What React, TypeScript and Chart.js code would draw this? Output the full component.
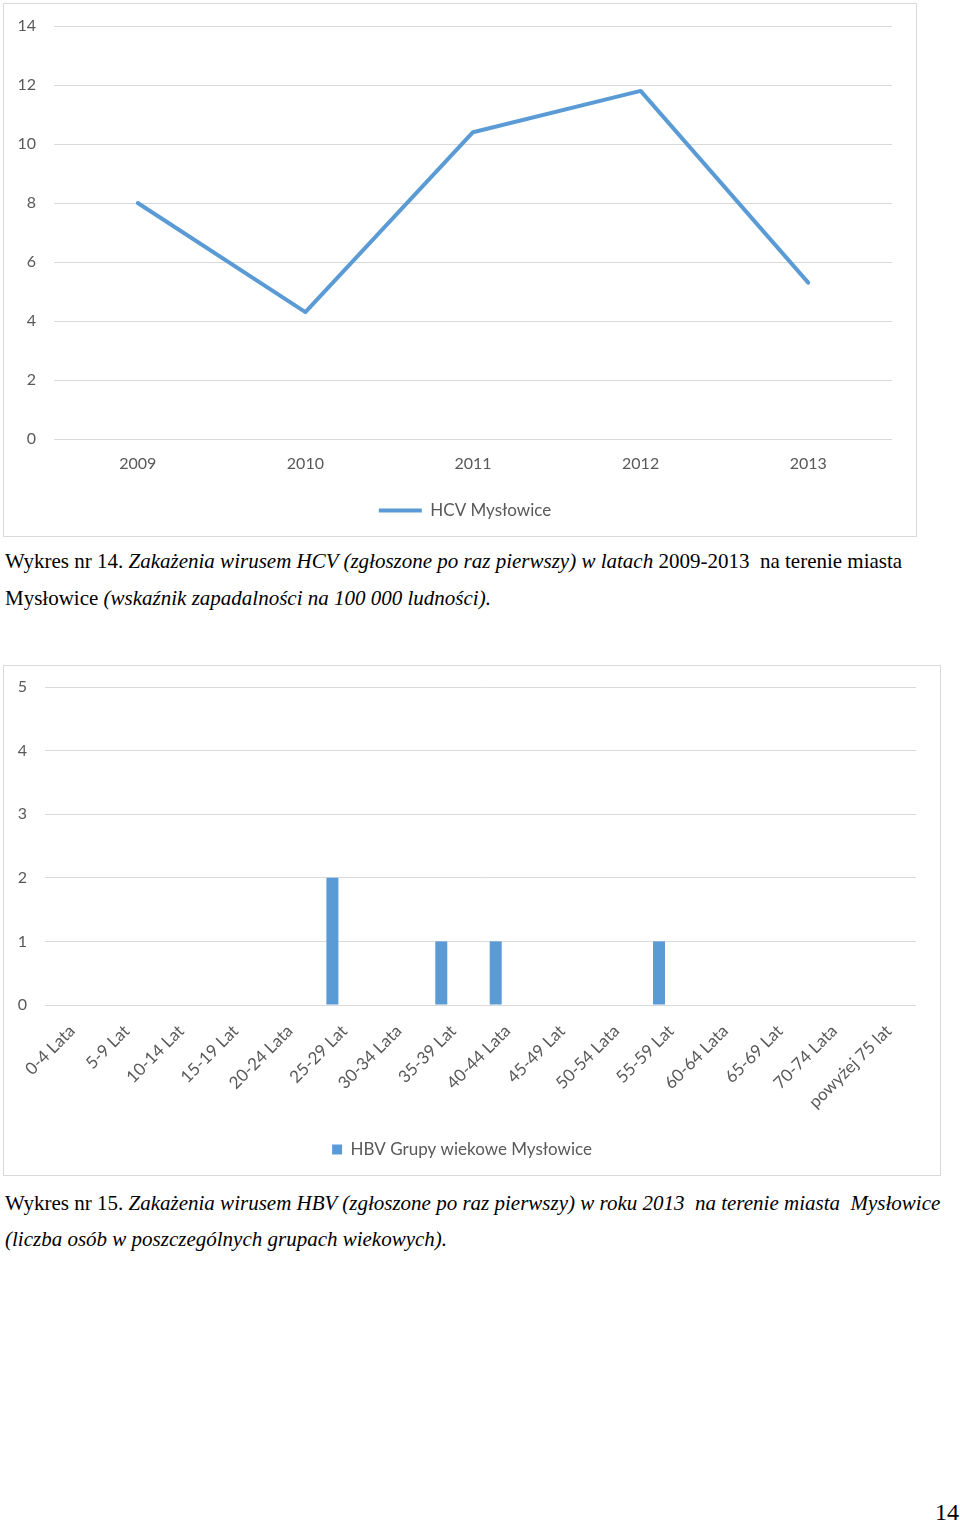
import React, { useEffect, useRef } from "react";
import { Chart, registerables } from "chart.js";

Chart.register(...registerables);

// ---------- data ----------
const hcvYears = ["2009", "2010", "2011", "2012", "2013"];
const hcvValues = [8.0, 4.3, 10.4, 11.8, 5.3];
const hcvLabel = "HCV Mysłowice";

const hbvGroups = [
  "0-4 Lata", "5-9 Lat", "10-14 Lat", "15-19 Lat", "20-24 Lata", "25-29 Lat",
  "30-34 Lata", "35-39 Lat", "40-44 Lata", "45-49 Lat", "50-54 Lata", "55-59 Lat",
  "60-64 Lata", "65-69 Lat", "70-74 Lata", "powyżej 75 lat",
];
const hbvValues = [0, 0, 0, 0, 0, 2, 0, 1, 1, 0, 0, 1, 0, 0, 0, 0];
const hbvLabel = "HBV Grupy wiekowe Mysłowice";

// ---------- styles ----------
const BLUE = "#5b9bd5";
const GRAY = "#595959";
const GRID = "#d9d9d9";
const FONT = "Lato";

const legendShift = (dx: number) => ({
  id: "legendShift",
  afterLayout(chart: any) {
    if (chart.legend) {
      chart.legend.left += dx;
      chart.legend.right += dx;
    }
  },
});

function LineChart() {
  const ref = useRef<HTMLCanvasElement | null>(null);
  useEffect(() => {
    if (!ref.current) return;
    const chart = new Chart(ref.current, {
      type: "line",
      data: {
        labels: hcvYears,
        datasets: [
          {
            label: hcvLabel,
            data: hcvValues,
            borderColor: BLUE,
            backgroundColor: BLUE,
            borderWidth: 4,
            pointRadius: 0,
            tension: 0,
            borderJoinStyle: "round",
            borderCapStyle: "round",
          },
        ],
      },
      plugins: [legendShift(17)],
      options: {
        responsive: false,
        animation: false,
        layout: { padding: { top: 22, right: 24, bottom: 7, left: 0 } },
        plugins: {
          tooltip: { enabled: false },
          legend: {
            position: "bottom",
            labels: {
              boxWidth: 43,
              boxHeight: 4,
              padding: 9,
              color: GRAY,
              font: { family: FONT, size: 17 },
              generateLabels: (c: any) =>
                Chart.defaults.plugins.legend.labels
                  .generateLabels(c)
                  .map((l: any) => ({ ...l, lineWidth: 0, fillStyle: BLUE })),
            },
          },
        },
        scales: {
          x: {
            offset: true,
            grid: { display: false, drawTicks: false },
            border: { display: false },
            ticks: { color: GRAY, font: { family: FONT, size: 16 }, padding: 15 },
            afterFit: (s: any) => {
              s.height = 54;
            },
          },
          y: {
            min: 0,
            max: 14,
            ticks: { stepSize: 2, color: GRAY, font: { family: FONT, size: 16 }, padding: 18 },
            grid: { color: GRID, lineWidth: 1, drawTicks: false },
            border: { display: false },
            afterFit: (s: any) => {
              s.width = 50;
              s.paddingTop = 0;
              s.paddingBottom = 0;
            },
          },
        },
      },
    });
    return () => chart.destroy();
  }, []);
  return <canvas ref={ref} width={912} height={532} style={{ display: "block", width: 912, height: 532 }} />;
}

function BarChart() {
  const ref = useRef<HTMLCanvasElement | null>(null);
  useEffect(() => {
    if (!ref.current) return;
    const chart = new Chart(ref.current, {
      type: "bar",
      data: {
        labels: hbvGroups,
        datasets: [
          { label: hbvLabel, data: hbvValues, backgroundColor: BLUE, borderWidth: 0 },
          { label: "", data: [], backgroundColor: BLUE, borderWidth: 0 },
          { label: "", data: [], backgroundColor: BLUE, borderWidth: 0 },
        ],
      },
      plugins: [legendShift(2)],
      options: {
        responsive: false,
        animation: false,
        datasets: { bar: { categoryPercentage: 0.662, barPercentage: 1 } },
        layout: { padding: { top: 21, right: 24, bottom: 7, left: 0 } },
        plugins: {
          tooltip: { enabled: false },
          legend: {
            position: "bottom",
            labels: {
              boxWidth: 10,
              boxHeight: 10,
              padding: 9,
              color: GRAY,
              font: { family: FONT, size: 17 },
              filter: (item: any) => item.datasetIndex === 0,
            },
          },
        },
        scales: {
          x: {
            grid: { display: false, drawTicks: false },
            border: { display: false },
            ticks: {
              color: GRAY,
              font: { family: FONT, size: 17 },
              padding: 16,
              minRotation: 45,
              maxRotation: 45,
              autoSkip: false,
            },
            afterFit: (s: any) => {
              s.height = 127;
            },
          },
          y: {
            min: 0,
            max: 5,
            ticks: { stepSize: 1, color: GRAY, font: { family: FONT, size: 16 }, padding: 18 },
            grid: { color: GRID, lineWidth: 1, drawTicks: false },
            border: { display: false },
            afterFit: (s: any) => {
              s.width = 41;
              s.paddingTop = 0;
              s.paddingBottom = 0;
            },
          },
        },
      },
    });
    return () => chart.destroy();
  }, []);
  return <canvas ref={ref} width={936} height={509} style={{ display: "block", width: 936, height: 509 }} />;
}

const captionStyle: React.CSSProperties = {
  position: "absolute",
  left: 5,
  fontFamily: "'Liberation Serif', 'Times New Roman', serif",
  fontSize: 21,
  lineHeight: "21px",
  whiteSpace: "pre",
  color: "#000",
};

export default function App() {
  return (
    <div
      style={{
        position: "absolute",
        left: 0,
        top: 0,
        width: 960,
        height: 1523,
        background: "#fff",
        overflow: "hidden",
      }}
    >
      <div style={{ position: "absolute", left: 3, top: 3, border: "1px solid #d9d9d9" }}>
        <LineChart />
      </div>
      <div style={{ ...captionStyle, top: 551 }}>
        Wykres nr 14. <i>Zakażenia wirusem HCV (zgłoszone po raz pierwszy) w latach </i>2009-2013  na terenie miasta
      </div>
      <div style={{ ...captionStyle, top: 588 }}>
        Mysłowice <i>(wskaźnik zapadalności na 100 000 ludności).</i>
      </div>

      <div style={{ position: "absolute", left: 3, top: 665, border: "1px solid #d9d9d9" }}>
        <BarChart />
      </div>
      <div style={{ ...captionStyle, top: 1193 }}>
        Wykres nr 15. <i>Zakażenia wirusem HBV (zgłoszone po raz pierwszy) w roku 2013  na terenie miasta  Mysłowice</i>
      </div>
      <div style={{ ...captionStyle, top: 1229 }}>
        <i>(liczba osób w poszczególnych grupach wiekowych).</i>
      </div>

      <div
        style={{
          position: "absolute",
          right: 1,
          top: 1500,
          fontFamily: "'Liberation Serif', 'Times New Roman', serif",
          fontSize: 24,
          lineHeight: "24px",
          color: "#000",
        }}
      >
        14
      </div>
    </div>
  );
}
